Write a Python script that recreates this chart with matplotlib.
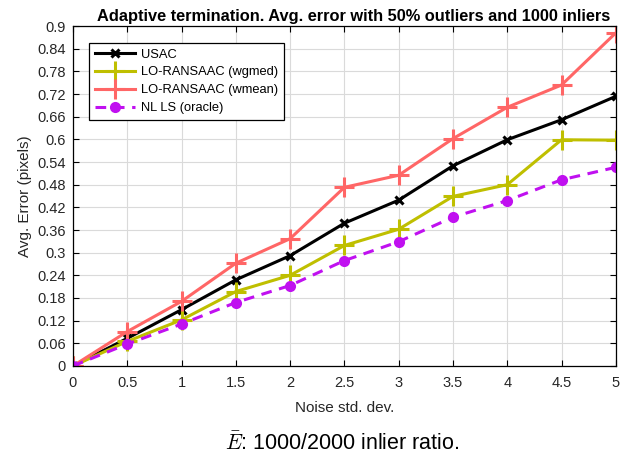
import numpy as np
import matplotlib
matplotlib.use("Agg")
from matplotlib import pyplot as plt

plt.rcParams['font.family'] = ['Liberation Sans', 'DejaVu Sans']
plt.rcParams['mathtext.fontset'] = 'cm'

noise = [0, 0.5, 1, 1.5, 2, 2.5, 3, 3.5, 4, 4.5, 5]
usac = [0, 0.073, 0.149, 0.228, 0.292, 0.378, 0.439, 0.530, 0.599, 0.652, 0.714]
lo_wgmed = [0, 0.065, 0.122, 0.197, 0.240, 0.319, 0.362, 0.449, 0.480, 0.599, 0.598]
lo_wmean = [0, 0.091, 0.171, 0.272, 0.337, 0.473, 0.505, 0.602, 0.685, 0.744, 0.882]
nl_ls = [0, 0.058, 0.111, 0.168, 0.213, 0.279, 0.329, 0.394, 0.438, 0.493, 0.526]

yticks = [0, 0.06, 0.12, 0.18, 0.24, 0.3, 0.36, 0.42, 0.48, 0.54, 0.6, 0.66, 0.72, 0.78, 0.84, 0.9]
xticks = [0, 0.5, 1, 1.5, 2, 2.5, 3, 3.5, 4, 4.5, 5]

fig = plt.figure(figsize=(6.29, 4.58), dpi=100)
ax = fig.add_axes([0.116, 0.201, 0.863, 0.742])

lw = 2.2
ax.plot(noise, usac, color="black", lw=lw, marker="x", ms=6, mew=2.2, label="USAC")
ax.plot(noise, lo_wgmed, color="#BFBF00", lw=lw, marker="+", ms=15, mew=2.2, label="LO-RANSAAC (wgmed)")
ax.plot(noise, lo_wmean, color="#FF6666", lw=lw, marker="+", ms=15, mew=2.2, label="LO-RANSAAC (wmean)")
ax.plot(noise, nl_ls, color="#C010F0", lw=lw, ls=(0, (3.5, 2.5)), marker="o", ms=6.5, mew=1.5, label="NL LS (oracle)")

ax.set_xlim(0, 5)
ax.set_ylim(0, 0.9)
ax.set_xticks(xticks)
ax.set_xticklabels([f"{v:g}" for v in xticks])
ax.set_yticks(yticks)
ax.set_yticklabels([f"{v:g}" for v in yticks])
ax.tick_params(direction="in", top=True, right=True, labelsize=10.5, length=4, width=0.8,
               labelcolor="#262626", pad=5)
ax.tick_params(axis="x", pad=7)
ax.grid(True, color="#DADADA", lw=0.8)
ax.set_axisbelow(True)
for s in ax.spines.values():
    s.set_linewidth(0.9)

ax.set_xlabel("Noise std. dev.", fontsize=11, labelpad=8, color="#262626")
ax.set_ylabel("Avg. Error (pixels)", fontsize=11, labelpad=4, color="#262626")
ax.set_title("Adaptive termination. Avg. error with 50% outliers and 1000 inliers",
             fontsize=11.8, fontweight="bold", pad=4, x=0.517)

leg = ax.legend(loc="upper left", bbox_to_anchor=(0.029, 0.951), borderaxespad=0,
                fontsize=9.3, fancybox=False, edgecolor="black", framealpha=1,
                handlelength=3.1, borderpad=0.45, labelspacing=0.45, handletextpad=0.5)
leg.get_frame().set_linewidth(0.9)

fig.text(0.545, 0.018, r"$\bar{E}$: 1000/2000 inlier ratio.", ha="center", fontsize=15.5)

fig.savefig("out.png", dpi=100)
